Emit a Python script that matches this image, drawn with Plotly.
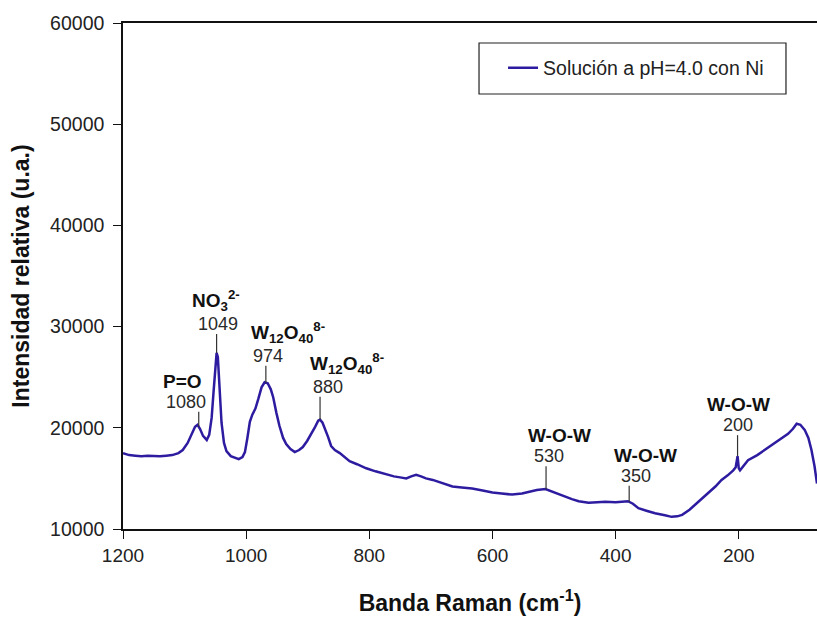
import numpy as np
import plotly.graph_objects as go

# ---------------- data ----------------
wavenumber = [1200, 1190, 1180, 1170, 1160, 1150, 1140, 1130, 1120, 1110, 1103, 1095, 1088, 1083,
              1079, 1075, 1070, 1064, 1060, 1056, 1053, 1050, 1048, 1046, 1043, 1040, 1036, 1032,
              1025, 1018, 1012, 1006, 1002, 998, 994, 990, 985, 980, 975, 970, 965, 960, 956,
              951, 946, 940, 935, 928, 921, 914, 908, 901, 894, 888, 883, 880, 876, 872, 867,
              862, 856, 848, 840, 832, 820, 805, 790, 773, 760, 750, 740, 732, 724, 716, 708,
              697, 680, 665, 650, 633, 616, 600, 585, 568, 552, 540, 528, 514, 503, 492, 480,
              471, 460, 444, 430, 417, 400, 390, 380, 372, 363, 350, 336, 320, 309, 300, 292,
              280, 271, 260, 249, 238, 228, 218, 209, 205, 202, 200, 198, 193, 185, 170, 158,
              145, 131, 120, 112, 106, 100, 93, 87, 82, 77, 73]
intensity = [17500, 17300, 17250, 17200, 17250, 17200, 17200, 17250, 17300, 17500, 17800, 18500, 19400, 20100,
             20300, 19900, 19200, 18800, 19300, 21000, 23500, 26500, 27400, 27000, 24000, 20500, 18500, 17700,
             17200, 17000, 16900, 17100, 17600, 19000, 20600, 21300, 21900, 22900, 24000, 24500, 24400, 23800, 23000,
             21500, 20200, 19000, 18400, 17900, 17600, 17800, 18100, 18700, 19400, 20100, 20700, 20800, 20500, 19900, 19100,
             18200, 17800, 17500, 17100, 16700, 16400, 16000, 15700, 15400, 15200, 15100, 15000, 15200, 15350, 15200, 15000,
             14850, 14500, 14200, 14100, 14000, 13800, 13600, 13500, 13400, 13500, 13700, 13850, 13950, 13700, 13400, 13100,
             12950, 12750, 12600, 12650, 12700, 12650, 12700, 12750, 12500, 12050, 11800, 11550, 11350, 11200, 11250, 11400,
             11900, 12400, 12950, 13550, 14200, 14850, 15300, 15800, 16100, 17200, 16000, 15800, 16200, 16800, 17300, 17800,
             18300, 18900, 19400, 19900, 20400, 20300, 19800, 19000, 17800, 16200, 14500]
series_name = "Solución a pH=4.0 con Ni"

band_names = ["P=O", "NO<sub>3</sub><sup>2-</sup>", "W<sub>12</sub>O<sub>40</sub><sup>8-</sup>",
              "W<sub>12</sub>O<sub>40</sub><sup>8-</sup>", "W-O-W", "W-O-W", "W-O-W"]
band_values = ["1080", "1049", "974", "880", "530", "350", "200"]
band_marker_x = [1077, 1048, 968, 880, 513, 378, 202]

x_ticks = [1200, 1000, 800, 600, 400, 200]
y_ticks = [10000, 20000, 30000, 40000, 50000, 60000]

# ---------------- styling ----------------
FONT = "Liberation Sans, Arial, sans-serif"
LINE_COLOR = "#2d1ca0"
# per-band layout: leader length (px), number x-shift, name x-shift (px)
leader_len = [15, 19, 17, 23, 23, 16, 21]
num_dx = [-13, 1, 2, 8, 3, 7, 0]
name_dx = [-3, -2, 20, 19, 10, 9, 1]

fig = go.Figure()
fig.add_trace(go.Scatter(x=wavenumber, y=intensity, mode="lines", name=series_name,
                         line=dict(color=LINE_COLOR, width=2.5)))

tip_y = np.interp(band_marker_x, wavenumber[::-1], intensity[::-1])

shapes = []
annotations = []
for i in range(len(band_values)):
    L = leader_len[i]
    shapes.append(dict(type="line", xref="x", yref="y", x0=band_marker_x[i], x1=band_marker_x[i],
                       ysizemode="pixel", yanchor=float(tip_y[i]), y0=0, y1=L,
                       line=dict(color="#333333", width=1.2)))
    annotations.append(dict(x=band_marker_x[i], y=float(tip_y[i]), xref="x", yref="y",
                            text=band_values[i], showarrow=False, xanchor="center", yanchor="bottom",
                            xshift=num_dx[i], yshift=L - 2,
                            font=dict(family=FONT, size=18, color="#2a2a2a")))
    annotations.append(dict(x=band_marker_x[i], y=float(tip_y[i]), xref="x", yref="y",
                            text="<b>" + band_names[i] + "</b>", showarrow=False,
                            xanchor="center", yanchor="bottom",
                            xshift=num_dx[i] + name_dx[i], yshift=L + 18,
                            font=dict(family=FONT, size=19, color="#111111")))

# legend frame
shapes.append(dict(type="rect", xref="paper", yref="paper", x0=0.513, x1=0.9553, y0=0.8597, y1=0.9605,
                   line=dict(color="#222222", width=1.2), fillcolor="rgba(0,0,0,0)"))

fig.update_layout(
    width=817, height=618,
    margin=dict(l=123, r=0, t=23, b=89),
    paper_bgcolor="white", plot_bgcolor="white",
    font=dict(family=FONT, color="#222222"),
    showlegend=True,
    legend=dict(x=0.5476, y=0.911, xanchor="left", yanchor="middle", bgcolor="rgba(0,0,0,0)",
                borderwidth=0, font=dict(family=FONT, size=19.5, color="#222222")),
    shapes=shapes, annotations=annotations,
)
fig.update_xaxes(range=[1200, 73], tickvals=x_ticks, ticks="outside", ticklen=8, tickwidth=1.3,
                 tickcolor="#111", showline=True, linecolor="#111", linewidth=1.5, mirror=True,
                 showgrid=False, zeroline=False, tickformat="d",
                 tickfont=dict(family=FONT, size=19, color="#222"),
                 title=dict(text="<b>Banda Raman (cm<sup>-1</sup>)</b>", standoff=30,
                            font=dict(family=FONT, size=23, color="#111")))
fig.update_yaxes(range=[10000, 60000], tickvals=y_ticks, ticks="outside", ticklen=8, tickwidth=1.3,
                 tickcolor="#111", showline=True, linecolor="#111", linewidth=1.5, mirror=False,
                 showgrid=False, zeroline=False, tickformat="d", ticklabelstandoff=5,
                 tickfont=dict(family=FONT, size=19.5, color="#222"),
                 title=dict(text="<b>Intensidad relativa (u.a.)</b>", standoff=14,
                            font=dict(family=FONT, size=23, color="#111")))

fig.write_html("out.html")
